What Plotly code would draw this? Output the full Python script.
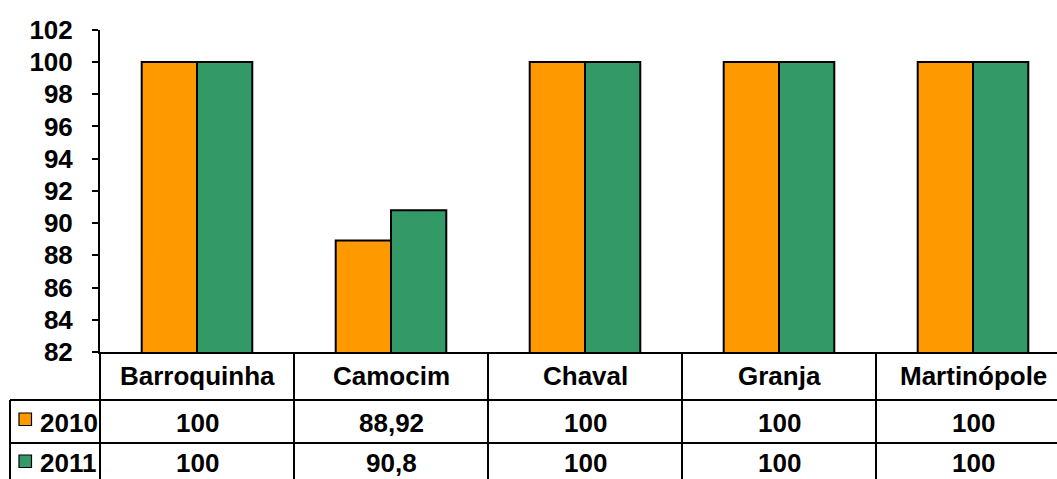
import plotly.graph_objects as go

# ---- data ----
categories = ["Barroquinha", "Camocim", "Chaval", "Granja", "Martinópole"]
series_names = ["2010", "2011"]
values_2010 = [100, 88.92, 100, 100, 100]
values_2011 = [100, 90.8, 100, 100, 100]
colors = ["#FF9900", "#339966"]
y_ticks = list(range(82, 103, 2))

W, H = 1057, 479
FONT = "Arial, Liberation Sans, sans-serif"
FS = 26

def px_x(p):
    return p / W

def px_y(p):
    return 1 - p / H

# plot area in pixels
PL, PR, PT, PB = 100, W, 29.8, 352
CAT_W = 194.0

fig = go.Figure()
for name, vals, col in zip(series_names, [values_2010, values_2011], colors):
    fig.add_trace(go.Bar(
        x=categories, y=vals, name=name,
        marker=dict(color=col, line=dict(color="black", width=2)),
        showlegend=False, hoverinfo="x+y",
    ))

def fmt(v):
    return ("%g" % v).replace(".", ",")

shapes = []
annotations = []
line = dict(color="black", width=2)

row_bottom = 500
for yy in [400, 443]:
    shapes.append(dict(type="line", xref="paper", yref="paper",
                       x0=px_x(10), x1=1, y0=px_y(yy), y1=px_y(yy), line=line))
shapes.append(dict(type="line", xref="paper", yref="paper",
                   x0=px_x(10), x1=px_x(10), y0=px_y(400), y1=px_y(row_bottom), line=line))
for i in range(len(categories) + 1):
    xx = PL + CAT_W * i
    if xx > W:
        continue
    shapes.append(dict(type="line", xref="paper", yref="paper",
                       x0=px_x(xx), x1=px_x(xx), y0=px_y(352), y1=px_y(row_bottom), line=line))

for i, c in enumerate(categories):
    cx = PL + CAT_W * (i + 0.5)
    annotations.append(dict(x=px_x(cx), y=px_y(376), xref="paper", yref="paper",
                            text=c, showarrow=False, xanchor="center", yanchor="middle",
                            font=dict(family=FONT, size=FS, color="black", weight="bold")))

row_centers = [423, 462.5]
for r, vals in enumerate([values_2010, values_2011]):
    for i, v in enumerate(vals):
        cx = PL + CAT_W * (i + 0.5)
        annotations.append(dict(x=px_x(cx), y=px_y(row_centers[r]), xref="paper", yref="paper",
                                text=fmt(v), showarrow=False, xanchor="center", yanchor="middle",
                                font=dict(family=FONT, size=FS, color="black", weight="bold")))
    key_top = [413, 455][r]
    shapes.append(dict(type="rect", xref="paper", yref="paper",
                       x0=px_x(19), x1=px_x(31.5), y0=px_y(key_top), y1=px_y(key_top + 12.5),
                       fillcolor=colors[r], line=dict(color="black", width=1.2)))
    annotations.append(dict(x=px_x(38), y=px_y(row_centers[r]), xref="paper", yref="paper",
                            text=series_names[r], showarrow=False, xanchor="left", yanchor="middle",
                            font=dict(family=FONT, size=FS, color="black", weight="bold")))

fig.update_layout(
    width=W, height=H,
    margin=dict(l=0, r=0, t=0, b=0, pad=0, autoexpand=False),
    paper_bgcolor="white", plot_bgcolor="white",
    barmode="group", bargap=0.43, bargroupgap=0,
    shapes=shapes, annotations=annotations,
    xaxis=dict(domain=[px_x(PL), 1], range=[-0.5, -0.5 + (W - PL) / CAT_W],
               showticklabels=False, ticks="", showgrid=False, zeroline=False,
               showline=True, linecolor="black", linewidth=2, fixedrange=True,
               automargin=False),
    yaxis=dict(domain=[px_y(PB), px_y(PT)], range=[82, 102],
               tickvals=y_ticks, ticktext=[str(t) for t in y_ticks],
               ticks="outside", ticklen=6, tickwidth=2, tickcolor="black",
               ticklabelstandoff=14,
               tickfont=dict(family=FONT, size=FS, color="black", weight="bold"),
               showgrid=False, zeroline=False, automargin=False,
               showline=True, linecolor="black", linewidth=2, fixedrange=True),
    font=dict(family=FONT, color="black"),
)

fig.write_html("out.html")
